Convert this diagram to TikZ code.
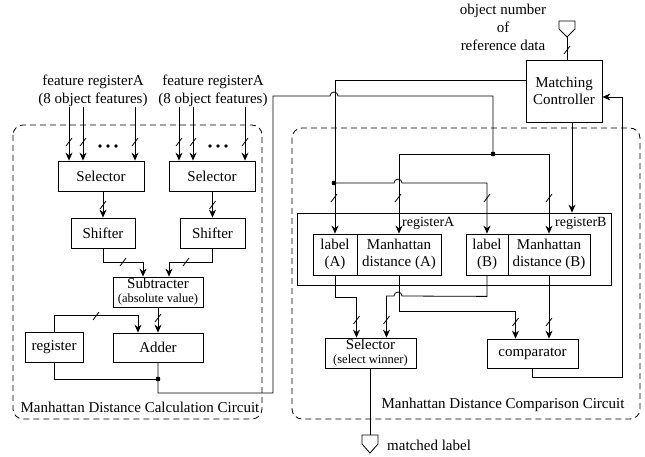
\documentclass[tikz,border=0pt]{standalone}
\usepackage{fontspec}
\setmainfont{Liberation Serif}
\usetikzlibrary{arrows.meta}
\usetikzlibrary{positioning}

\tikzset{
  blk/.style={draw, rectangle, inner sep=0pt, align=center, line width=0.8pt,
    font=\fontsize{15}{17}\selectfont},
  wire/.style={line width=0.8pt},
  arr/.style={wire, -{Stealth[length=8pt,width=7pt]}},
  frame/.style={draw, line width=0.8pt, dash pattern=on 6pt off 4pt, rounded corners=10pt},
  lbl/.style={inner sep=0pt, align=center, font=\fontsize{15}{18}\selectfont},
  small/.style={font=\fontsize{12.5}{13}\selectfont},
}
\newcommand{\busmark}[1]{\draw[wire] (#1) ++(-3,4) -- ++(6,-8);}

\begin{document}
\begin{tikzpicture}[x=1pt, y=-1pt]
    \useasboundingbox (0,0) rectangle (645,457);

    \draw[frame] (13,125) rectangle (262,419);
    \draw[frame] (292,128) rectangle (640,419);
    \node[lbl] (calcname) at (140,407) {Manhattan Distance Calculation Circuit};
    \node[lbl] (compname) at (503,405) {Manhattan Distance Comparison Circuit};

    \node[lbl] (featL) at (93,91) {feature registerA\\(8 object features)};
    \node[lbl] (featR) at (213,91) {feature registerA\\(8 object features)};
    \node[lbl] (objnum) at (503,27) {object number\\of\\reference data};

    \node[blk, minimum width=86, minimum height=30] (selL) at (101,176) {Selector};
    \node[blk, minimum width=86, minimum height=30] (selR) at (212,176) {Selector};
    \node[blk, minimum width=64, minimum height=30] (shL) at (103,233) {Shifter};
    \node[blk, minimum width=65, minimum height=30] (shR) at (212.5,233) {Shifter};
    \node[blk, minimum width=90, minimum height=30] (sub) at (158,292)
      {Subtracter\\[-3pt]{\fontsize{12.5}{13}\selectfont (absolute value)}};
    \node[blk, minimum width=58, minimum height=30] (reg) at (54,347) {register};
    \node[blk, minimum width=90, minimum height=29] (add) at (158,347.5) {Adder};

    \node[blk, minimum width=76, minimum height=62] (mc) at (564,91) {Matching\\Controller};
    \node[blk, minimum width=314, minimum height=72] (regbox) at (454,249) {};
    \node[blk, minimum width=44, minimum height=41] (labA) at (335,254.5) {label\\(A)};
    \node[blk, minimum width=84, minimum height=41] (mdA) at (399,254.5) {Manhattan\\distance (A)};
    \node[blk, minimum width=42, minimum height=41] (labB) at (487,254.5) {label\\(B)};
    \node[blk, minimum width=82, minimum height=41] (mdB) at (549,254.5) {Manhattan\\distance (B)};
    \node[lbl, anchor=west, font=\fontsize{14}{16}\selectfont] (regAname) at (402,223) {registerA};
    \node[lbl, anchor=west, font=\fontsize{14}{16}\selectfont] (regBname) at (555,223) {registerB};
    \node[blk, minimum width=91, minimum height=30] (selW) at (370.5,353)
      {Selector\\[-3pt]{\fontsize{12.5}{13}\selectfont (select winner)}};
    \node[blk, minimum width=91, minimum height=29] (cmp) at (532.5,353.5) {comparator};
    \node[lbl, anchor=west] (outname) at (387,445) {matched label};

    \draw[wire] (559,21) -- (575,21) -- (575,29) -- (567,37) -- (559,29) -- cycle;
    \coordinate (pinIn) at (567,37);
    \draw[wire] (362,435) -- (378,435) -- (378,444) -- (370,453) -- (362,444) -- cycle;
    \coordinate (pinOut) at (370,435);

    \foreach \x [count=\i] in {69,83,135} {
      \coordinate (inL\i) at (\x,107);
      \draw[arr] (inL\i) -- (inL\i |- selL.north);
      \busmark{\x,142}
    }
    \foreach \x [count=\i] in {179,193,245} {
      \coordinate (inR\i) at (\x,107);
      \draw[arr] (inR\i) -- (inR\i |- selR.north);
      \busmark{\x,142}
    }
    \foreach \x in {100,108,116,210,218,226}
      \fill (\x,146) circle[radius=1.8pt];

    \draw[arr] (selL.south -| shL.north) -- (shL.north);
    \draw[arr] (selR.south -| shR.north) -- (shR.north);
    \busmark{103,205}
    \busmark{212.5,205}
    \draw[arr] (shL.south) -- ++(0,14) -| ([xshift=-15pt]sub.north);
    \draw[arr] (shR.south) -- ++(0,14) -| ([xshift=11pt]sub.north);
    \busmark{123,262}
    \busmark{186,262}
    \draw[arr] (sub.south) -- (add.north);
    \busmark{158,318}
    \draw[arr] (reg.north) -- ++(0,-16) -| ([xshift=-20pt]add.north);
    \busmark{96,316}

    \coordinate (jC) at (158,379);
    \coordinate (jA) at (493,154);
    \coordinate (jB) at (334,183);
    \draw[wire] (reg.south) |- (jC);
    \draw[wire] (add.south) -- (158,393) -- (273,393) -- (273,96) -- (330,96)
      arc[start angle=180, end angle=360, radius=4] -- (493,96) -- (jA);
    \draw[arr] (jA) -| (mdA.north);
    \draw[arr] (jA) -| (mdB.north);
    \draw[arr] ([yshift=11pt]mc.west) -| (labA.north);
    \draw[arr] (jB) -- (394,183) arc[start angle=180, end angle=360, radius=4] -| (labB.north);
    \draw[arr] ([xshift=8pt]mc.south) -- ([xshift=8pt]mc.south |- regbox.north);
    \draw[wire] (pinIn) -- (pinIn |- mc.north);
    \busmark{567,50}
    \foreach \x in {334,398,487,549}
      \busmark{\x,198}
    \foreach \j in {jA,jB,jC}
      \fill (\j) circle[radius=2.2pt];

    \draw[arr] (labA.south) -- ++(0,22) -| ([xshift=-14pt]selW.north);
    \draw[arr] (labB.south) -- ++(0,21) -- (402,296)
      arc[start angle=0, end angle=-180, radius=4] -| ([xshift=16pt]selW.north);
    \busmark{356.5,320}
    \busmark{386.5,320}
    \draw[arr] (mdA.south) -- ++(0,36) -| ([xshift=-17pt]cmp.north);
    \draw[arr] (mdB.south) -- (mdB.south |- cmp.north);
    \busmark{515.5,322}
    \busmark{549,322}
    \draw[arr] (cmp.south) -- ++(0,9) -| (622,97) -- ([yshift=-6pt]mc.east);
    \draw[wire] (selW.south) -- (selW.south |- pinOut);
\end{tikzpicture}
\end{document}
